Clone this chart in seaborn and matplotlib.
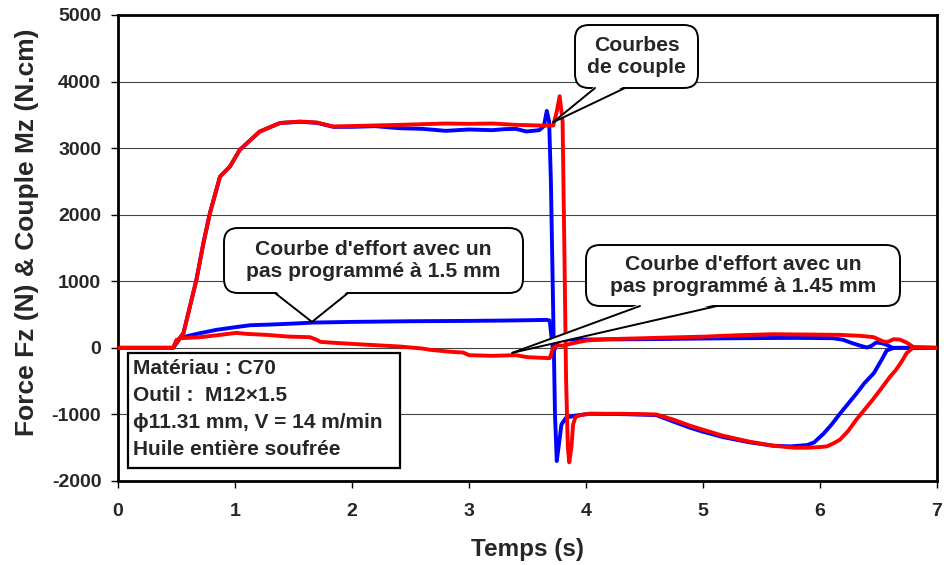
import numpy as np
import pandas as pd
import matplotlib
matplotlib.use("Agg")
import matplotlib.pyplot as plt
import seaborn as sns
from matplotlib.patches import FancyBboxPatch, Polygon, Rectangle
from matplotlib.lines import Line2D
from matplotlib.transforms import IdentityTransform

# ---- Measured signals -------------------------------------------------------
# Torque, pitch 1.5 mm (blue)
t_couple_15 = [0.00, 0.47, 0.56, 0.67, 0.73, 0.786, 0.872, 0.957, 1.04, 1.21, 1.385,
               1.556, 1.70, 1.84, 2.00, 2.20, 2.40, 2.60, 2.80, 3.00, 3.20, 3.30,
               3.40, 3.49, 3.60, 3.64, 3.665, 3.685, 3.70, 3.72, 3.735, 3.75,
               3.765, 3.79, 3.83, 3.90, 4.03, 4.30, 4.60, 4.75, 4.89, 5.00, 5.17,
               5.40, 5.60, 5.75, 5.89, 5.95, 6.03, 6.10, 6.17, 6.24, 6.31, 6.38,
               6.46, 6.52, 6.57, 6.63, 7.00]
m_couple_15 = [0, 0, 225, 1020, 1573, 2027, 2572, 2724, 2973, 3248, 3378,
               3395, 3380, 3320, 3320, 3330, 3300, 3290, 3260, 3280, 3270, 3285,
               3290, 3250, 3270, 3330, 3560, 3400, 2500, 500, -1000, -1700,
               -1500, -1150, -1050, -1020, -990, -995, -1010, -1110, -1200, -1260, -1340,
               -1420, -1470, -1480, -1460, -1420, -1290, -1150, -990, -840, -690, -530,
               -380, -200, -40, 0, 0]

# Torque, pitch 1.45 mm (red)
t_couple_145 = [0.00, 0.47, 0.56, 0.67, 0.73, 0.786, 0.872, 0.957, 1.04, 1.21, 1.385,
                1.556, 1.70, 1.84, 2.07, 2.41, 2.60, 2.80, 3.00, 3.20, 3.40, 3.60,
                3.72, 3.75, 3.775, 3.80, 3.815, 3.83, 3.845, 3.857, 3.875, 3.89,
                3.91, 3.95, 4.03, 4.30, 4.60, 4.75, 4.89, 5.00, 5.17, 5.40, 5.60,
                5.78, 5.90, 6.00, 6.06, 6.12, 6.17, 6.24, 6.31, 6.38, 6.45, 6.52,
                6.60, 6.65, 6.70, 6.74, 6.80, 7.00]
m_couple_145 = [0, 0, 225, 1020, 1573, 2027, 2572, 2724, 2973, 3248, 3378,
                3400, 3385, 3325, 3335, 3350, 3360, 3370, 3365, 3370, 3350, 3340,
                3340, 3550, 3780, 3400, 1500, -500, -1500, -1720, -1500, -1150,
                -1040, -1010, -990, -990, -1000, -1080, -1170, -1230, -1320, -1410, -1470,
                -1500, -1500, -1490, -1480, -1430, -1380, -1250, -1080, -930, -780, -620,
                -430, -330, -200, -80, 10, 0]

# Thrust force, pitch 1.5 mm (blue)
t_effort_15 = [0.00, 0.47, 0.53, 0.60, 0.70, 0.84, 1.00, 1.13, 1.30, 1.50, 1.67,
               2.00, 2.50, 3.00, 3.30, 3.50, 3.66, 3.69, 3.72, 3.76, 3.83, 4.00,
               4.46, 5.00, 5.32, 5.80, 6.11, 6.20, 6.26, 6.33, 6.40, 6.44, 6.48,
               6.53, 6.57, 6.62, 7.00]
f_effort_15 = [0, 0, 145, 180, 220, 270, 310, 340, 350, 365, 380,
               390, 400, 405, 410, 415, 420, 410, -80, 110, 125, 125,
               130, 140, 145, 150, 145, 120, 80, 40, 5, 30, 80,
               70, 45, 0, 0]

# Thrust force, pitch 1.45 mm (red)
t_effort_145 = [0.00, 0.47, 0.50, 0.54, 0.70, 0.85, 1.01, 1.10, 1.27, 1.45, 1.64,
                1.70, 1.73, 1.90, 2.10, 2.41, 2.60, 2.67, 2.85, 2.95, 3.00, 3.20,
                3.40, 3.50, 3.69, 3.72, 3.76, 3.80, 3.89, 4.00, 4.18, 4.60, 5.03,
                5.30, 5.60, 5.90, 6.17, 6.35, 6.46, 6.54, 6.58, 6.63, 6.68, 6.74,
                6.80, 7.00]
f_effort_145 = [0, 0, 120, 145, 160, 190, 225, 210, 195, 170, 160,
                120, 90, 70, 50, 20, -10, -30, -60, -70, -110, -120,
                -110, -140, -155, 0, 40, 30, 70, 110, 130, 150, 170,
                190, 205, 200, 195, 180, 160, 95, 90, 130, 125, 80,
                10, 0]

x_ticks = [0, 1, 2, 3, 4, 5, 6, 7]
y_ticks = [-2000, -1000, 0, 1000, 2000, 3000, 4000, 5000]

BLUE = "#0000FF"
RED = "#FF0000"

frames = {
    "c15": pd.DataFrame({"t": t_couple_15, "v": m_couple_15}),
    "c145": pd.DataFrame({"t": t_couple_145, "v": m_couple_145}),
    "e15": pd.DataFrame({"t": t_effort_15, "v": f_effort_15}),
    "e145": pd.DataFrame({"t": t_effort_145, "v": f_effort_145}),
}
colors = {"c15": BLUE, "c145": RED, "e15": BLUE, "e145": RED}

sns.set_theme(style="white")
plt.rcParams["font.family"] = ["Liberation Sans", "DejaVu Sans"]
plt.rcParams["font.weight"] = "bold"

fig = plt.figure(figsize=(9.45, 5.65), dpi=100)
ax = fig.add_axes([118 / 945, 1 - 481 / 565, (937 - 118) / 945, (481 - 15) / 565])

# draw order: blue first, red on top
for key in ["e15", "c15", "e145", "c145"]:
    sns.lineplot(data=frames[key], x="t", y="v", ax=ax, color=colors[key], lw=2.8,
                 sort=False, estimator=None, legend=False, zorder=3)

ax.set_xlim(0, 7)
ax.set_ylim(-2000, 5000)
ax.set_xticks(x_ticks)
ax.set_yticks(y_ticks)
ax.set_xticklabels([str(v) for v in x_ticks], fontsize=14, fontweight="bold")
ax.set_yticklabels([str(v) for v in y_ticks], fontsize=14, fontweight="bold")
ax.tick_params(axis="both", direction="out", length=5, width=1, color="black",
               left=True, bottom=True)
ax.tick_params(axis="x", pad=11)
ax.tick_params(axis="y", pad=7)
ax.yaxis.grid(True, color="#444444", lw=0.8)
ax.xaxis.grid(False)
for s in ax.spines.values():
    s.set_color("black")
    s.set_linewidth(2)
    s.set_visible(True)

ax.set_xlabel("Temps (s)", fontsize=17.5, fontweight="bold")
ax.set_ylabel("Force Fz (N) & Couple Mz (N.cm)", fontsize=19, fontweight="bold")
ax.xaxis.set_label_coords(0.5, -0.123)
ax.yaxis.set_label_coords(-0.097, 0.534)

fig.canvas.draw()
W, H = fig.bbox.width, fig.bbox.height
ident = IdentityTransform()


def px(x, y):
    """Pixel position measured from the top-left corner -> display coords."""
    return (x, H - y)


def bubble(x0, y0, x1, y1, base0, base1, tip, text):
    left, top = px(x0, y0)
    right, bottom = px(x1, y1)
    box = FancyBboxPatch((left, bottom), right - left, top - bottom,
                         boxstyle="round,pad=0,rounding_size=14",
                         transform=ident, fc="white", ec="black", lw=1.4,
                         zorder=6, clip_on=False)
    fig.add_artist(box)
    tx, ty = ax.transData.transform(tip)
    b0 = (base0, bottom)
    b1 = (base1, bottom)
    tri = Polygon([(b0[0], b0[1] + 2), (b1[0], b1[1] + 2), (tx, ty)], closed=True,
                  transform=ident, fc="white", ec="none", zorder=7)
    fig.add_artist(tri)
    for b in (b0, b1):
        fig.add_artist(Line2D([b[0], tx], [b[1], ty], transform=ident,
                              color="black", lw=1.4, zorder=8))
    cx, cy = (left + right) / 2, (top + bottom) / 2
    fig.text(cx / W, cy / H, text, ha="center", va="center",
             fontsize=15.2, fontweight="bold", linespacing=1.2, zorder=9)


bubble(575, 25, 698, 88, 595, 625, (3.72, 3390), "Courbes\nde couple")
bubble(224, 228, 523, 293, 275, 348, (1.658, 390),
       "Courbe d'effort avec un\npas programmé à 1.5 mm")
bubble(586, 245, 900, 306, 640, 717, (3.37, -75),
       "Courbe d'effort avec un\npas programmé à 1.45 mm")

# material / tool box
bl = px(128, 468)
fig.add_artist(Rectangle(bl, 400 - 128, 468 - 353, transform=ident,
                         fc="white", ec="black", lw=1.6, zorder=6))
info = ["Matériau : C70", "Outil :  M12×1.5", "ϕ11.31 mm, V = 14 m/min",
        "Huile entière soufrée"]
for i, line in enumerate(info):
    x, y = px(133, 369 + i * 26.7)
    fig.text(x / W, y / H, line, ha="left", va="center",
             fontsize=15, fontweight="bold", zorder=9)

fig.savefig("out.png", dpi=100, facecolor="white")
